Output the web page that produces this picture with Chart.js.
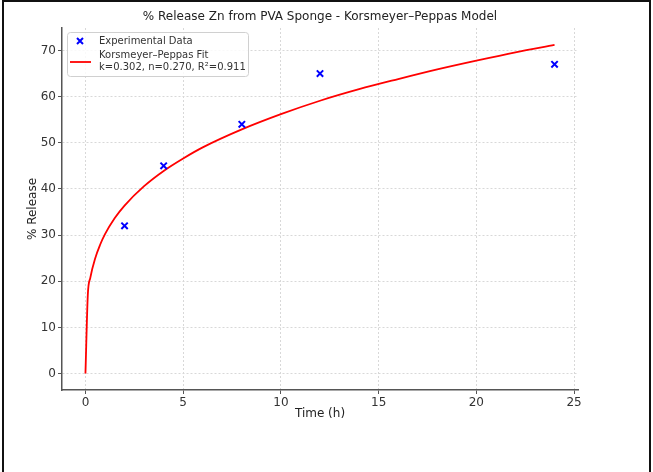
<!DOCTYPE html>
<html>
<head>
<meta charset="utf-8">
<script src="https://cdn.jsdelivr.net/npm/chart.js@4.4.0/dist/chart.umd.min.js"></script>
<style>
  html, body { margin: 0; padding: 0; background: #fff; }
  #wrap { width: 653px; height: 472px; }
</style>
</head>
<body>
<div id="wrap"><canvas id="canvas" width="653" height="472"></canvas></div>
<script>
// experimental points
var expTime = [2, 4, 8, 12, 24];
var expRelease = [32, 45, 54, 65, 67];

// fitted curve
var fitTime = [0, 0.12, 0.25, 0.5, 0.75, 1, 1.5, 2, 3, 4, 5, 6, 8, 10, 12, 14, 16, 18, 20, 22, 24];
var fitRelease = [0, 17, 20.8, 25, 27.9, 30.2, 33.7, 36.4, 40.6, 43.9, 46.6, 49.0, 52.9, 56.2, 59.1, 61.6, 63.8, 65.9, 67.8, 69.6, 71.2];

var yTicks = [0, 10, 20, 30, 40, 50, 60, 70];
var xTicks = [0, 5, 10, 15, 20, 25];

var titleText = '% Release Zn from PVA Sponge - Korsmeyer–Peppas Model';
var legendLabels = ['Experimental Data', 'Korsmeyer–Peppas Fit', 'k=0.302, n=0.270, R²=0.911'];

var FONT = 'DejaVu Sans';

var expPoints = expTime.map(function(t, i){ return {x: t, y: expRelease[i]}; });
var fitPoints = fitTime.map(function(t, i){ return {x: t, y: fitRelease[i]}; });

// frame, title and legend box drawn by hand
var extras = {
    id: 'extras',
    afterDraw: function(chart){
        var ctx = chart.ctx;
        var a = chart.chartArea;
        ctx.save();
        // outer frame (no bottom edge)
        ctx.strokeStyle = '#111';
        ctx.lineWidth = 2;
        ctx.beginPath();
        ctx.moveTo(3, 472);
        ctx.lineTo(3, 1);
        ctx.lineTo(650, 1);
        ctx.lineTo(650, 472);
        ctx.stroke();

        // title centred over the plot area
        ctx.fillStyle = '#222';
        ctx.font = '12px "' + FONT + '"';
        ctx.textAlign = 'center';
        ctx.textBaseline = 'middle';
        ctx.fillText(titleText, (a.left + a.right) / 2, 17);

        // legend
        var lx = a.left + 5, ly = a.top + 4, lw = 181, lh = 44;
        ctx.fillStyle = 'rgba(255,255,255,0.85)';
        ctx.strokeStyle = '#d0d0d0';
        ctx.lineWidth = 1;
        ctx.beginPath();
        ctx.roundRect(lx + 0.5, ly + 0.5, lw, lh, 3);
        ctx.fill();
        ctx.stroke();

        // x marker
        var mx = lx + 13, my = ly + 9;
        ctx.strokeStyle = '#0000ff';
        ctx.lineWidth = 2;
        ctx.beginPath();
        ctx.moveTo(mx - 3, my - 3); ctx.lineTo(mx + 3, my + 3);
        ctx.moveTo(mx + 3, my - 3); ctx.lineTo(mx - 3, my + 3);
        ctx.stroke();

        // red line
        ctx.strokeStyle = '#ff0000';
        ctx.lineWidth = 1.8;
        ctx.beginPath();
        ctx.moveTo(lx + 3, ly + 30);
        ctx.lineTo(lx + 24, ly + 30);
        ctx.stroke();

        ctx.fillStyle = '#333';
        ctx.font = '10px "' + FONT + '"';
        ctx.textBaseline = 'middle';
        ctx.textAlign = 'left';
        ctx.fillText(legendLabels[0], lx + 32, my);
        ctx.fillText(legendLabels[1], lx + 32, ly + 23);
        ctx.fillText(legendLabels[2], lx + 32, ly + 35);
        ctx.restore();
    }
};

const ctx = document.getElementById('canvas').getContext('2d');
const myChart = new Chart(ctx, {
    type: 'scatter',
    data: {
        datasets: [{
            label: 'Experimental Data',
            data: expPoints,
            pointStyle: 'crossRot',
            pointRadius: 4.5,
            pointBorderWidth: 2,
            borderColor: '#0000ff',
            backgroundColor: '#0000ff',
            order: 1
        }, {
            label: 'Korsmeyer–Peppas Fit',
            data: fitPoints,
            showLine: true,
            borderColor: '#ff0000',
            borderWidth: 1.8,
            pointRadius: 0,
            cubicInterpolationMode: 'monotone',
            order: 2
        }]
    },
    options: {
        responsive: false,
        animation: false,
        layout: { padding: { left: 26, right: 75, top: 28, bottom: 51 } },
        scales: {
            x: {
                type: 'linear',
                min: -1.2,
                max: 25.2,
                afterFit: function(s){ s.height = 31; },
                afterBuildTicks: function(s){ s.ticks = xTicks.map(function(v){ return {value: v}; }); },
                ticks: { color: '#333', font: { family: FONT, size: 12 }, padding: 2, maxRotation: 0 },
                grid: { color: '#d8d8d8', tickColor: '#555', tickLength: 4, tickBorderDash: [] },
                border: { color: '#555', width: 1.5, dash: [2, 2] },
                title: { display: true, text: 'Time (h)', color: '#222', font: { family: FONT, size: 12 }, padding: { top: 0, bottom: 0 } }
            },
            y: {
                type: 'linear',
                min: -3.56,
                max: 74.86,
                afterFit: function(s){ s.width = 36; },
                afterBuildTicks: function(s){ s.ticks = yTicks.map(function(v){ return {value: v}; }); },
                ticks: { color: '#333', font: { family: FONT, size: 12 }, padding: 2 },
                grid: { color: '#d8d8d8', tickColor: '#555', tickLength: 4, tickBorderDash: [] },
                border: { color: '#555', width: 1.5, dash: [2, 2] },
                title: { display: true, text: '% Release', color: '#222', font: { family: FONT, size: 12 }, padding: { top: 0, bottom: 0 } }
            }
        },
        plugins: {
            legend: { display: false },
            tooltip: { enabled: false },
            title: { display: false }
        }
    },
    plugins: [extras]
});
</script>
</body>
</html>
